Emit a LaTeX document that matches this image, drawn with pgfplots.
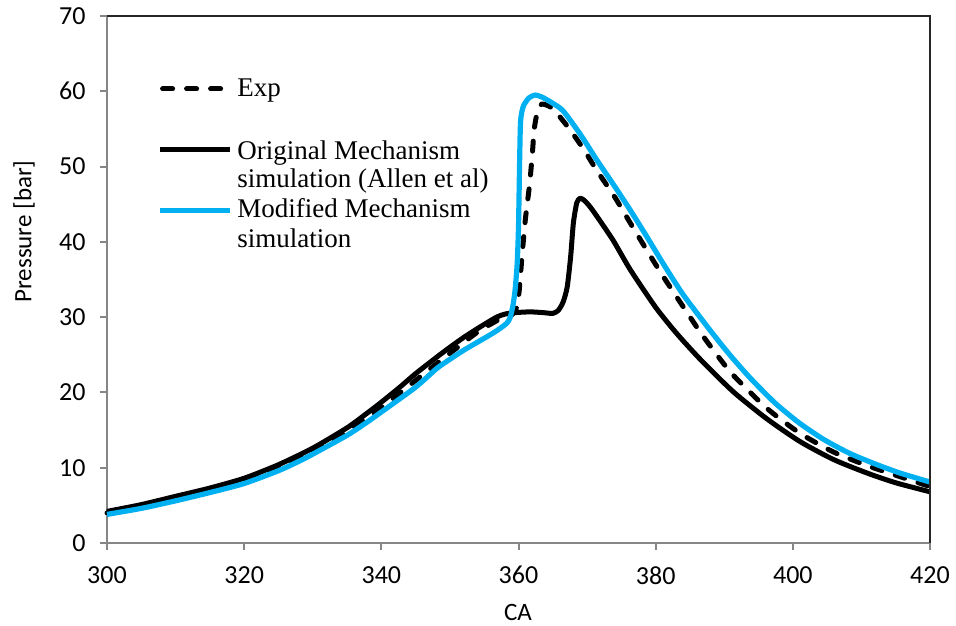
\documentclass[border=0pt]{standalone}
\usepackage{fontspec}
\setmainfont{Liberation Serif}
\newfontfamily\calibri{Carlito}
\usepackage{pgfplots}
\pgfplotsset{compat=1.18}
\definecolor{excelblue}{HTML}{00B0F0}
\definecolor{axisgray}{HTML}{868686}

\begin{document}
\begin{tikzpicture}
\begin{axis}[
    name=ax,
    scale only axis,
    width=411.5pt, height=263.5pt,
    xmin=300, xmax=420, ymin=0, ymax=70,
    xtick={300,320,...,420},
    ytick={0,10,...,70},
    axis lines=left,
    axis line style={-, axisgray, line width=1pt},
    tick style={axisgray, line width=1pt},
    tick align=outside,
    major tick length=3.5pt,
    /pgf/number format/assume math mode=true,
    ticklabel style={font=\calibri\fontsize{13}{13}\selectfont, inner sep=0pt},
    xticklabel style={yshift=-8pt},
    yticklabel style={xshift=-7pt},
    clip=false,
]
% Exp
\addplot[black, line width=2.5pt, dash pattern=on 5pt off 7pt, line cap=round, smooth, tension=0.4] coordinates {
(300,4.0) (305,4.9) (310,5.9) (315,7.0) (320,8.3) (325,10.0) (330,12.2) (335,14.8)
(340,18.0) (345,21.6) (350,25.2) (354,28.0) (357,29.6) (359,30.3) (359.7,31.2)
(360.1,33.5) (360.5,38) (361.0,43) (361.6,47.5) (362.0,51.5) (362.3,55) (362.8,57.5)
(363.4,58.3) (364.5,58.0) (365.5,57.2) (367.5,54.9) (369.5,52.3) (371.4,49.5) (374,46)
(376.3,42.5) (378.7,38.9) (381.1,35.4) (384,31.4) (386.5,28.0) (389,24.9) (391.3,22.3)
(396.2,17.9) (401,14.6) (405.9,12.1) (410.8,10.3) (415,9.0) (420,7.5)
};
% Original mechanism
\addplot[black, line width=2.5pt, line join=round, smooth, tension=0.4] coordinates {
(300,4.2) (305,5.1) (310,6.2) (315,7.3) (320,8.6) (325,10.4) (330,12.6) (335,15.3)
(338,17.3) (340,18.7) (342.7,20.7) (345,22.5) (348.1,24.7) (350,26.0) (352,27.3)
(354.4,28.7) (356.8,30.0) (358,30.4) (359.5,30.6) (361.7,30.7) (363.6,30.6) (365.0,30.5)
(365.8,30.9) (366.5,32.0) (367.1,34.0) (367.6,38.0) (368.0,42.5) (368.5,45.2) (369.0,45.8)
(369.6,45.5) (370.4,44.7) (371.5,43.3) (373.8,40.2) (376.3,36.3) (380,31.3) (383,27.9)
(386.5,24.4) (391.3,20.1) (396.2,16.5) (401,13.5) (405.9,11.1) (410.8,9.3)
(415,8.0) (420,6.8)
};
% Modified mechanism
\addplot[excelblue, line width=2.6pt, line join=round, smooth, tension=0.4] coordinates {
(300,3.8) (305,4.6) (310,5.6) (315,6.7) (320,7.9) (325,9.6) (328.1,10.9) (330,11.8)
(335,14.3) (338,16.1) (340,17.4) (345,20.7) (348.1,23.2) (350,24.4) (352,25.6)
(355.4,27.4) (357,28.3) (358.3,29.2) (358.8,30.0) (359.2,31.6) (359.5,33.6) (359.8,37)
(360.0,42) (360.15,50) (360.3,56) (360.7,58.0) (361.5,59.1) (362.4,59.5) (363.5,59.2)
(365,58.4) (366.5,57.4) (369,54.3) (371.4,50.9) (374,47.4) (376.3,44.2) (378.7,40.7)
(381.1,37.1) (384,33.0) (387.9,28.3) (390.8,25.0) (393.8,21.9) (397.4,18.6) (401,15.9)
(404.6,13.7) (408.3,11.9) (412,10.5) (415.6,9.3) (420,8.1)
};
\draw[black!85, line width=1.1pt] (rel axis cs:0,1) -- (rel axis cs:1,1) -- (rel axis cs:1,0);
\end{axis}

% axis titles
\node[font=\calibri\fontsize{12.5}{12.5}\selectfont, rotate=90, inner sep=0pt]
  at ([shift={(-41.5pt,155.75pt)}]ax.south west) {Pressure [bar]};
\node[font=\calibri\fontsize{12.5}{12.5}\selectfont, inner sep=0pt]
  at ([shift={(205.5pt,-34.5pt)}]ax.south west) {CA};

% legend
\begin{scope}[shift={(ax.south west)}, every node/.style={font=\fontsize{13.5}{13.5}\selectfont, inner sep=0pt, anchor=base west}]
\draw[black, line width=2.5pt, dash pattern=on 5pt off 7pt, line cap=round] (27.8pt,227pt) -- (58pt,227pt);
\node at (65pt,223.2pt) {Exp};
\draw[black, line width=2.5pt] (26.5pt,196.9pt) -- (61.5pt,196.9pt);
\node at (65pt,191.5pt) {Original Mechanism};
\node at (65pt,177.5pt) {simulation (Allen et al)};
\draw[excelblue, line width=2.6pt] (26.5pt,166.2pt) -- (61.5pt,166.2pt);
\node at (65pt,162.5pt) {Modified Mechanism};
\node at (65pt,147.5pt) {simulation};
\end{scope}

\pgfresetboundingbox
\path ([shift={(-53.5pt,-41pt)}]ax.south west) rectangle ([shift={(13pt,8pt)}]ax.north east);
\end{tikzpicture}
\end{document}
